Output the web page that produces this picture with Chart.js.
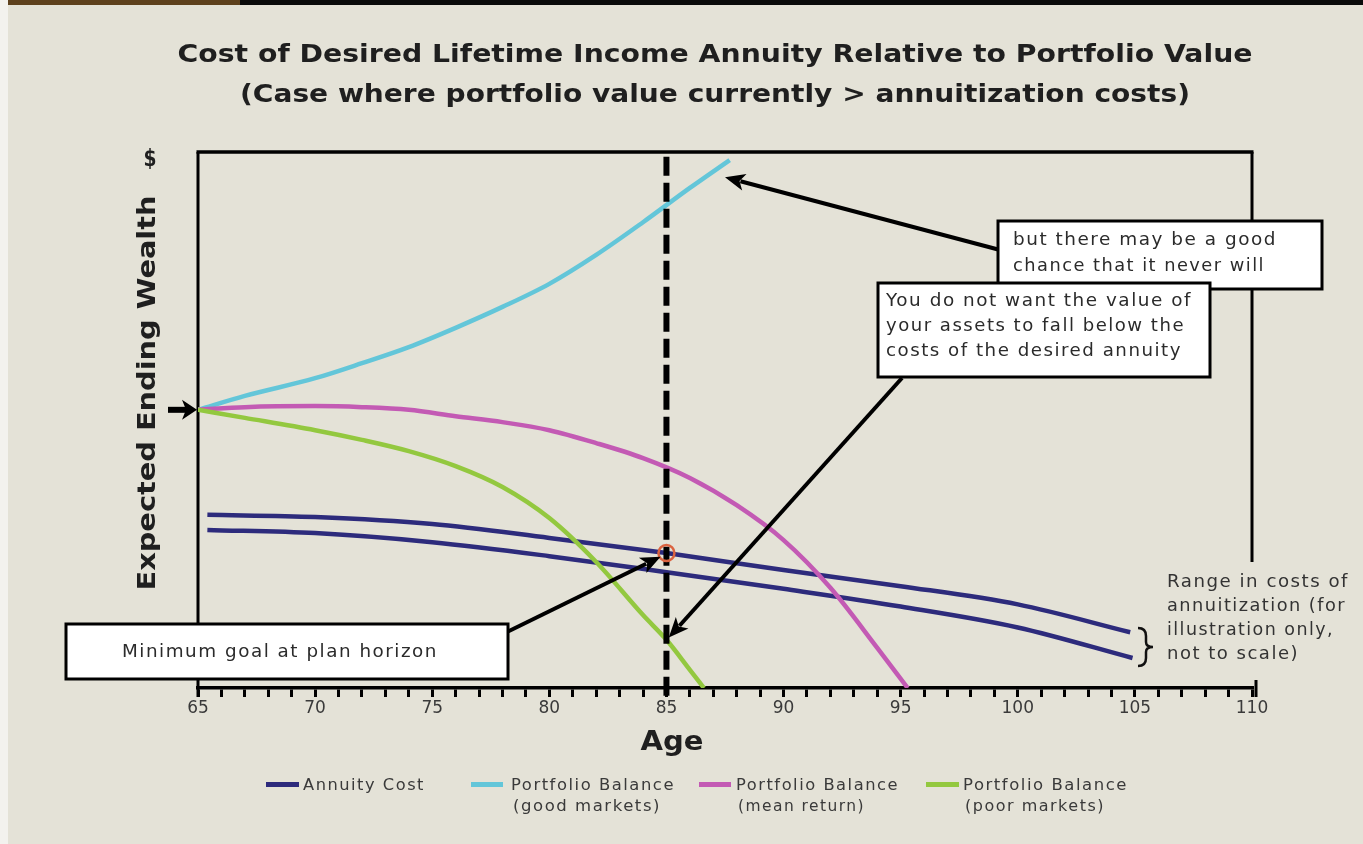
<!DOCTYPE html>
<html>
<head>
<meta charset="utf-8">
<script src="https://cdn.jsdelivr.net/npm/chart.js@4.4.1/dist/chart.umd.min.js"></script>
<style>
html,body{margin:0;padding:0;background:#e4e2d7;}
canvas{display:block;}
</style>
</head>
<body>
<canvas id="c" width="1363" height="844"></canvas>
<script>
// ---------------- data ----------------
const xTickLabels = [65, 70, 75, 80, 85, 90, 95, 100, 105, 110];

const annuityHighAges = [65.4, 70, 75, 80, 85, 90, 95, 100, 104.8];
const annuityHighCost = [32.3, 31.9, 30.6, 28.0, 25.2, 22.0, 19.0, 15.6, 10.4];
const annuityLowAges  = [65.4, 70, 75, 80, 85, 90, 95, 100, 104.9];
const annuityLowCost  = [29.5, 28.9, 27.2, 24.6, 21.6, 18.5, 15.2, 11.3, 5.6];

const goodAges    = [65, 67, 70, 72, 74, 76, 78, 80, 82, 84, 86, 87.7];
const goodBalance = [51.9, 54.5, 57.8, 60.6, 63.6, 67.2, 71.1, 75.4, 80.8, 86.9, 93.3, 98.5];

const meanAges    = [65, 67, 70, 72, 74, 76, 78, 80, 82, 84, 86, 88, 90, 92, 94, 95.3];
const meanBalance = [51.9, 52.4, 52.6, 52.4, 51.9, 50.7, 49.6, 48.1, 45.7, 42.9, 39.2, 34.1, 27.6, 18.7, 7.5, 0];

const poorAges    = [65, 67, 70, 72, 74, 76, 78, 80, 82, 84, 85, 86, 86.6];
const poorBalance = [51.9, 50.4, 48.1, 46.3, 44.2, 41.4, 37.5, 31.7, 23.5, 13.6, 9.0, 3.4, 0];

const planHorizonAge = 85;
const minimumGoal = 25.2;
const horizonLineRange = [99.1, -1.9];

const legendLabels = [
  ['Annuity Cost'],
  ['Portfolio Balance', '(good markets)'],
  ['Portfolio Balance', '(mean return)'],
  ['Portfolio Balance', '(poor markets)']
];
// -------------------------------------------------------------------------

const W = 1363, H = 844;
const NAVY = '#2d2b7c', CYAN = '#63c6d9', MAG = '#c35ab4', GREEN = '#93c83f';
const FONT = '"DejaVu Sans", Verdana, sans-serif';
const pts = (xs, ys) => xs.map((x, i) => ({x: x, y: ys[i]}));

function fitText(ctx, txt, x, y, w, font, color, align, mode) {
  ctx.save();
  ctx.font = font;
  ctx.fillStyle = color;
  ctx.textBaseline = 'middle';
  ctx.textAlign = align || 'left';
  const m = ctx.measureText(txt).width;
  if (mode === 'space' && 'letterSpacing' in ctx) {
    let sp = (w - m) / txt.length;
    sp = Math.max(-0.5, Math.min(1.4, sp));
    ctx.letterSpacing = sp.toFixed(2) + 'px';
    const m2 = ctx.measureText(txt).width;
    ctx.translate(x, y);
    ctx.scale(w / m2, 1);
  } else {
    ctx.translate(x, y);
    ctx.scale(w / m, 1);
  }
  ctx.fillText(txt, 0, 0);
  ctx.restore();
}

function arrow(ctx, x1, y1, x2, y2, lw, hl, hw) {
  const a = Math.atan2(y2 - y1, x2 - x1);
  const c = Math.cos(a), s = Math.sin(a);
  ctx.save();
  ctx.strokeStyle = '#000'; ctx.fillStyle = '#000';
  ctx.lineWidth = lw; ctx.lineCap = 'butt';
  ctx.beginPath();
  ctx.moveTo(x1, y1);
  ctx.lineTo(x2 - c * hl * 0.8, y2 - s * hl * 0.8);
  ctx.stroke();
  ctx.beginPath();
  ctx.moveTo(x2, y2);
  ctx.lineTo(x2 - c * hl - s * hw / 2, y2 - s * hl + c * hw / 2);
  ctx.lineTo(x2 - c * hl * 0.75, y2 - s * hl * 0.75);
  ctx.lineTo(x2 - c * hl + s * hw / 2, y2 - s * hl - c * hw / 2);
  ctx.closePath();
  ctx.fill();
  ctx.restore();
}

function box(ctx, x, y, w, h) {
  ctx.save();
  ctx.fillStyle = '#ffffff';
  ctx.fillRect(x, y, w, h);
  ctx.strokeStyle = '#000';
  ctx.lineWidth = 3;
  ctx.strokeRect(x, y, w, h);
  ctx.restore();
}

const decor = {
  id: 'decor',
  beforeDraw(chart) {
    const ctx = chart.ctx;
    ctx.save();
    ctx.fillStyle = '#e4e2d7';
    ctx.fillRect(0, 0, W, H);
    ctx.fillStyle = '#f3f2ee';
    ctx.fillRect(0, 0, 8, H);
    ctx.fillStyle = '#0a0a0a';
    ctx.fillRect(8, 0, W - 8, 5);
    ctx.fillStyle = '#5e411d';
    ctx.fillRect(8, 0, 232, 5);
    ctx.restore();
  },
  beforeDatasetsDraw(chart) {
    const ctx = chart.ctx, ca = chart.chartArea;
    ctx.save();
    ctx.strokeStyle = '#000';
    ctx.lineWidth = 3.5;
    ctx.beginPath();
    ctx.moveTo(ca.left - 1.5, ca.top);
    ctx.lineTo(ca.right + 1.5, ca.top);
    ctx.stroke();
    ctx.lineWidth = 3;
    ctx.beginPath();
    ctx.moveTo(ca.left, ca.top);
    ctx.lineTo(ca.left, ca.bottom + 9);
    ctx.moveTo(ca.right, ca.top);
    ctx.lineTo(ca.right, 562);
    ctx.moveTo(ca.right + 4, ca.bottom - 8);
    ctx.lineTo(ca.right + 4, ca.bottom + 9);
    ctx.stroke();
    ctx.restore();
  },
  afterDatasetsDraw(chart) {
    const ctx = chart.ctx;
    const xs = chart.scales.x, ys = chart.scales.y;
    const px = (a, v) => [xs.getPixelForValue(a), ys.getPixelForValue(v)];
    // arrows
    const t1 = px(87.5, 95.3);
    arrow(ctx, 1000, 250, t1[0], t1[1], 4, 20, 17);
    const t2 = px(85.1, 9.4);
    arrow(ctx, 902, 378, t2[0], t2[1], 4, 20, 17);
    const t3 = px(84.75, 24.5);
    arrow(ctx, 507, 632, t3[0], t3[1], 4, 20, 17);
    // small arrow at y-axis start level
    const s = px(65, goodBalance[0]);
    ctx.save();
    ctx.fillStyle = '#000';
    ctx.fillRect(168, s[1] - 3, 18, 6);
    ctx.beginPath();
    ctx.moveTo(s[0] - 1, s[1]);
    ctx.lineTo(182, s[1] - 10);
    ctx.lineTo(186, s[1]);
    ctx.lineTo(182, s[1] + 10);
    ctx.closePath();
    ctx.fill();
    ctx.restore();
    // boxes
    box(ctx, 998, 221, 324, 68);
    box(ctx, 878, 283, 332, 94);
    box(ctx, 66, 624, 442, 55);
    const tc = '#2b2b2b';
    const fb = '17px ' + FONT;
    fitText(ctx, 'but there may be a good', 1013, 241, 264, fb, tc, 'left', 'space');
    fitText(ctx, 'chance that it never will', 1013, 267, 252, fb, tc, 'left', 'space');
    fitText(ctx, 'You do not want the value of', 886, 302, 306, fb, tc, 'left', 'space');
    fitText(ctx, 'your assets to fall below the', 886, 327, 299, fb, tc, 'left', 'space');
    fitText(ctx, 'costs of the desired annuity', 886, 352, 296, fb, tc, 'left', 'space');
    fitText(ctx, 'Minimum goal at plan horizon', 122, 653, 316, fb, tc, 'left', 'space');
    // brace
    ctx.save();
    ctx.strokeStyle = '#111';
    ctx.lineWidth = 2.5;
    ctx.beginPath();
    ctx.moveTo(1138, 628);
    ctx.quadraticCurveTo(1146, 628, 1146, 636);
    ctx.lineTo(1146, 642);
    ctx.quadraticCurveTo(1146, 647, 1153, 647);
    ctx.quadraticCurveTo(1146, 647, 1146, 652);
    ctx.lineTo(1146, 658);
    ctx.quadraticCurveTo(1146, 666, 1138, 666);
    ctx.stroke();
    ctx.restore();
  },
  afterDraw(chart) {
    const ctx = chart.ctx;
    const tc = '#1f1f1f';
    fitText(ctx, 'Cost of Desired Lifetime Income Annuity Relative to Portfolio Value', 715, 55, 1075, 'bold 25px ' + FONT, tc, 'center');
    fitText(ctx, '(Case where portfolio value currently > annuitization costs)', 715, 95, 950, 'bold 25px ' + FONT, tc, 'center');
    // y axis title
    ctx.save();
    ctx.translate(148, 393);
    ctx.rotate(-Math.PI / 2);
    fitText(ctx, 'Expected Ending Wealth', 0, 0, 395, 'bold 25px ' + FONT, tc, 'center');
    ctx.restore();
    fitText(ctx, '$', 150, 160, 13, 'bold 23px ' + FONT, tc, 'center');
    fitText(ctx, 'Age', 672, 743, 63, 'bold 27px ' + FONT, tc, 'center');
    // range text
    const fr = '17px ' + FONT;
    const rc = '#333';
    fitText(ctx, 'Range in costs of', 1167, 583, 182, fr, rc, 'left', 'space');
    fitText(ctx, 'annuitization (for', 1167, 607, 179, fr, rc, 'left', 'space');
    fitText(ctx, 'illustration only,', 1167, 631, 167, fr, rc, 'left', 'space');
    fitText(ctx, 'not to scale)', 1167, 655, 132, fr, rc, 'left', 'space');
    // legend
    const lg = [
      {c: NAVY, sx: 266, sw: 33, tx: 303, w: [122]},
      {c: CYAN, sx: 471, sw: 32, tx: 511, w: [164, 148]},
      {c: MAG, sx: 699, sw: 32, tx: 736, w: [163, 127]},
      {c: GREEN, sx: 926, sw: 33, tx: 963, w: [165, 140]}
    ];
    const fl = '15px ' + FONT;
    lg.forEach((g, i) => {
      ctx.save();
      ctx.fillStyle = g.c;
      ctx.fillRect(g.sx, 782, g.sw, 5);
      ctx.restore();
      legendLabels[i].forEach((t, j) => {
        fitText(ctx, t, g.tx + (j ? 2 : 0), 786 + j * 21, g.w[j], fl, '#3a3a3a', 'left', 'space');
      });
    });
  }
};

const lineDs = (label, data, color, order) => ({
  type: 'line', label: label, data: data,
  borderColor: color, backgroundColor: color,
  borderWidth: 4.5, pointRadius: 0, pointHoverRadius: 0,
  cubicInterpolationMode: 'monotone', fill: false, order: order
});

new Chart(document.getElementById('c'), {
  type: 'line',
  data: {
    datasets: [
      {label: 'Minimum goal at plan horizon', data: [{x: planHorizonAge, y: minimumGoal}],
       showLine: false, pointRadius: 8, pointBorderWidth: 2.5, pointBorderColor: '#db6340',
       pointBackgroundColor: 'rgba(0,0,0,0)', order: 0},
      {label: 'Plan horizon', data: horizonLineRange.map(v => ({x: planHorizonAge, y: v})),
       borderColor: '#000', borderWidth: 6, borderDash: [19, 7], pointRadius: 0,
       tension: 0, clip: false, order: 1},
      lineDs('Portfolio Balance (poor markets)', pts(poorAges, poorBalance), GREEN, 2),
      lineDs('Portfolio Balance (mean return)', pts(meanAges, meanBalance), MAG, 3),
      lineDs('Portfolio Balance (good markets)', pts(goodAges, goodBalance), CYAN, 4),
      lineDs('Annuity Cost', pts(annuityHighAges, annuityHighCost), NAVY, 5),
      lineDs('Annuity Cost (low)', pts(annuityLowAges, annuityLowCost), NAVY, 6)
    ]
  },
  options: {
    responsive: false,
    animation: false,
    events: [],
    layout: {padding: {left: 198, right: 111, top: 152, bottom: 116}},
    plugins: {legend: {display: false}, tooltip: {enabled: false}, title: {display: false}},
    scales: {
      x: {
        type: 'linear', min: 65, max: 110, position: 'bottom',
        ticks: {
          stepSize: 1, autoSkip: false, maxRotation: 0, minRotation: 0, padding: 1,
          callback: v => xTickLabels.includes(v) ? String(v) : '',
          font: {family: FONT, size: 17}, color: '#3a3a3a'
        },
        grid: {display: true, drawOnChartArea: false, drawTicks: true, tickLength: 9, lineWidth: 3, color: '#000'},
        border: {display: true, width: 3.5, color: '#000'},
        afterFit: s => { s.height = 40; }
      },
      y: {type: 'linear', min: 0, max: 100, display: false}
    }
  },
  plugins: [decor]
});
</script>
</body>
</html>
